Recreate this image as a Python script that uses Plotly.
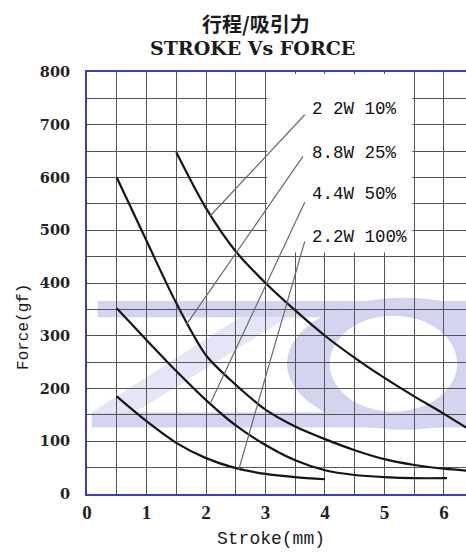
import plotly.graph_objects as go

# ---- data ----
stroke_a = [1.5, 2.0, 2.5, 3.0, 3.5, 4.0, 4.5, 5.0, 5.5, 6.0, 6.4]
force_a = [648, 542, 460, 400, 348, 300, 258, 220, 185, 152, 124]

stroke_b = [0.5, 1.0, 1.5, 2.0, 2.5, 3.0, 3.5, 4.0, 4.5, 5.0, 5.5, 6.0, 6.4]
force_b = [600, 480, 362, 263, 207, 160, 128, 104, 83, 66, 55, 48, 44]

stroke_c = [0.5, 1.0, 1.5, 2.0, 2.5, 3.0, 3.5, 4.0, 4.5, 5.0, 5.5, 6.05]
force_c = [352, 292, 233, 178, 130, 93, 64, 45, 36, 32, 30, 30]

stroke_d = [0.5, 1.0, 1.5, 2.0, 2.5, 3.0, 3.5, 4.0]
force_d = [185, 138, 97, 68, 49, 38, 32, 28]

curve_labels = ["2 2W 10%", "8.8W 25%", "4.4W 50%", "2.2W 100%"]
label_force = [729, 647, 568, 488]
label_stroke = 3.75

# leader line end points: (start on label side) -> (point on curve)
leader_x0 = [3.66, 3.63, 3.66, 3.66]
leader_y0 = [719, 640, 553, 479]
leader_x1 = [2.07, 1.67, 2.07, 2.55]
leader_y1 = [527, 321, 171, 46]

x_ticks = [0, 1, 2, 3, 4, 5, 6]
y_ticks = [0, 100, 200, 300, 400, 500, 600, 700, 800]

fig = go.Figure()

for xs, ys in [(stroke_a, force_a), (stroke_b, force_b), (stroke_c, force_c), (stroke_d, force_d)]:
    fig.add_trace(go.Scatter(x=xs, y=ys, mode="lines",
                             line=dict(color="#151515", width=2.2, shape="spline", smoothing=0.8),
                             showlegend=False, hoverinfo="skip"))

shapes = []
# watermark "ZO" (light lavender, below grid)
band = "rgb(210,212,240)"
light = "rgb(228,230,248)"
shapes.append(dict(type="rect", xref="x", yref="y", x0=0.18, x1=6.5, y0=335, y1=366,
                   fillcolor=band, line_width=0, layer="below"))
shapes.append(dict(type="rect", xref="x", yref="y", x0=0.08, x1=6.5, y0=126, y1=155,
                   fillcolor=band, line_width=0, layer="below"))
shapes.append(dict(type="path", xref="x", yref="y",
                   path="M 2.57 335 L 3.38 335 L 0.81 155 L 0.08 155 Z",
                   fillcolor=light, line_width=0, layer="below"))
shapes.append(dict(type="circle", xref="x", yref="y", x0=3.36, x1=7.3, y0=122, y1=372,
                   fillcolor=band, line_width=0, layer="below"))
shapes.append(dict(type="circle", xref="x", yref="y", x0=4.08, x1=6.22, y0=156, y1=338,
                   fillcolor="white", line_width=0, layer="below"))
# white label box covering the grid
shapes.append(dict(type="rect", xref="x", yref="y", x0=3.03, x1=5.47, y0=458, y1=796,
                   fillcolor="white", line_width=0, layer="above"))
# leader lines
for a, b, c, d in zip(leader_x0, leader_y0, leader_x1, leader_y1):
    shapes.append(dict(type="line", xref="x", yref="y", x0=a, y0=b, x1=c, y1=d,
                       line=dict(color="#6a6a6a", width=1.2), layer="above"))

annotations = []
for txt, yv in zip(curve_labels, label_force):
    annotations.append(dict(x=label_stroke, y=yv, xref="x", yref="y", text=txt,
                            showarrow=False, xanchor="left", yanchor="middle",
                            font=dict(family="Liberation Mono", size=17.5, color="#111")))
annotations.append(dict(x=0.446, y=1.116, xref="paper", yref="paper", text="<b>行程/吸引力</b>",
                        showarrow=False, xanchor="center", yanchor="middle",
                        font=dict(family="Noto Sans CJK SC", size=20, color="#1a1a1a")))
annotations.append(dict(x=0.437, y=1.058, xref="paper", yref="paper", text="<b>STROKE Vs FORCE</b>",
                        showarrow=False, xanchor="center", yanchor="middle",
                        font=dict(family="DejaVu Serif", size=19, color="#1a1a1a")))
annotations.append(dict(x=-0.166, y=0.396, xref="paper", yref="paper", text="Force(gf)",
                        showarrow=False, textangle=-90, xanchor="center", yanchor="middle",
                        font=dict(family="Liberation Mono", size=16, color="#1a1a1a")))
annotations.append(dict(x=0.485, y=-0.107, xref="paper", yref="paper", text="Stroke(mm)",
                        showarrow=False, xanchor="center", yanchor="middle",
                        font=dict(family="Liberation Mono", size=18, color="#1a1a1a")))

grid_col = "#555555"
fig.update_layout(
    width=466, height=552,
    margin=dict(l=87, r=0, t=72, b=58),
    paper_bgcolor="white", plot_bgcolor="white",
    shapes=shapes, annotations=annotations,
    hovermode=False,
    xaxis=dict(range=[0, 6.37], tickvals=x_ticks, ticktext=[str(v) for v in x_ticks],
               showgrid=True, gridcolor=grid_col, gridwidth=1,
               minor=dict(dtick=0.5, tick0=0, showgrid=True, gridcolor=grid_col, gridwidth=1),
               zeroline=False, showline=True, linecolor="#3b3bc4", linewidth=2, mirror=True,
               ticks="", ticklabelstandoff=0,
               tickfont=dict(family="Liberation Serif", size=19, color="#222", weight="bold")),
    yaxis=dict(range=[0, 800], tickvals=y_ticks, ticktext=[str(v) for v in y_ticks],
               showgrid=True, gridcolor=grid_col, gridwidth=1,
               minor=dict(dtick=50, tick0=0, showgrid=True, gridcolor=grid_col, gridwidth=1),
               zeroline=False, showline=True, linecolor="#3b3bc4", linewidth=2,
               ticks="", ticklabelstandoff=12, automargin=False,
               tickfont=dict(family="DejaVu Serif", size=14.5, color="#222", weight="bold")),
)

fig.write_html("out.html", config={"displayModeBar": False, "staticPlot": True},
               post_script="document.body.style.margin='0';document.body.style.overflow='hidden';")
